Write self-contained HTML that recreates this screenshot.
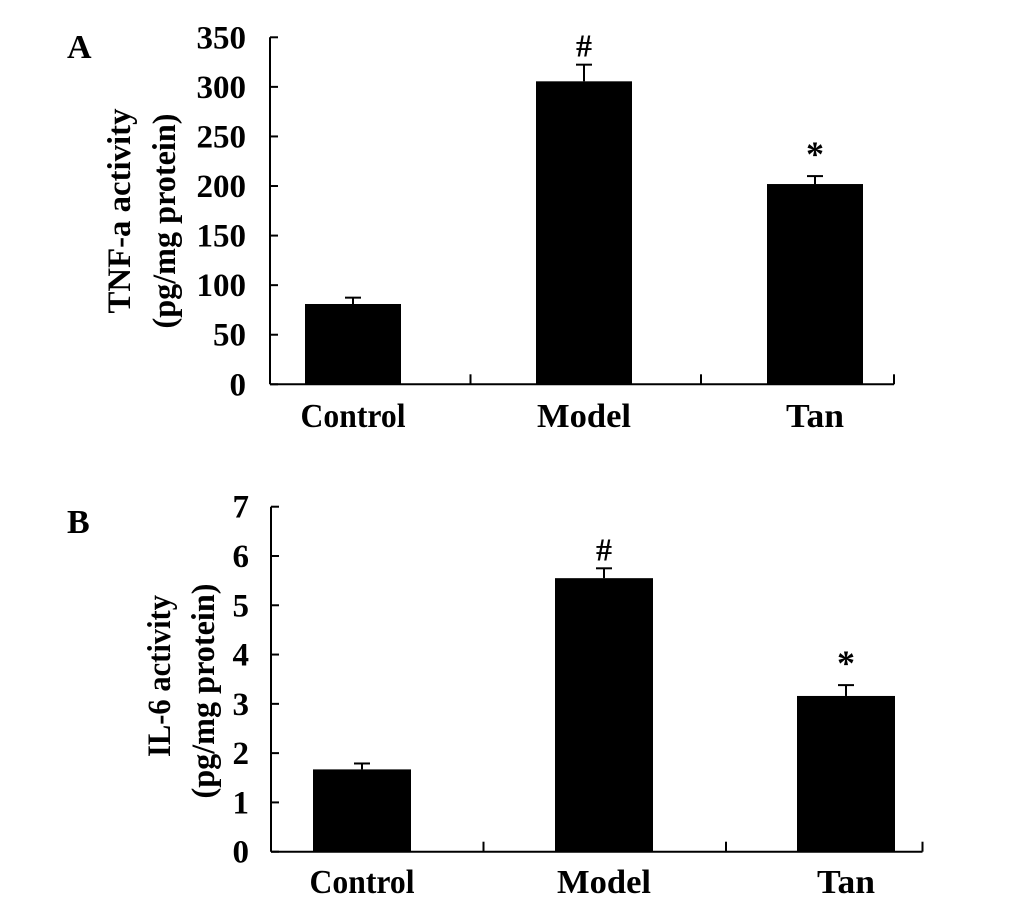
<!DOCTYPE html>
<html><head><meta charset="utf-8"><style>
html,body{margin:0;padding:0;background:#fff;}
svg{display:block;}
text{font-family:"Liberation Serif",serif;font-weight:bold;fill:#000;}
</style></head><body>
<svg id="fig" width="1034" height="898" viewBox="0 0 1034 898">
<text x="67" y="58" font-size="34">A</text>
<text x="67" y="533" font-size="34">B</text>
<text transform="translate(130,211) rotate(-90)" text-anchor="middle" font-size="33" textLength="205" lengthAdjust="spacingAndGlyphs">TNF-a activity</text>
<text transform="translate(175,221) rotate(-90)" text-anchor="middle" font-size="33" textLength="215" lengthAdjust="spacingAndGlyphs">(pg/mg protein)</text>
<text transform="translate(170,676) rotate(-90)" text-anchor="middle" font-size="33" textLength="162" lengthAdjust="spacingAndGlyphs">IL-6 activity</text>
<text transform="translate(214,691) rotate(-90)" text-anchor="middle" font-size="33" textLength="215" lengthAdjust="spacingAndGlyphs">(pg/mg protein)</text>
</svg>
<script>
const categories = ["Control", "Model", "Tan"];
const tnfValues = [81, 305.6, 202];
const tnfErrors = [6.4, 16.8, 8];
const tnfMarks = ["", "#", "*"];
const tnfTicks = [0, 50, 100, 150, 200, 250, 300, 350];
const il6Values = [1.67, 5.55, 3.16];
const il6Errors = [0.12, 0.2, 0.22];
const il6Marks = ["", "#", "*"];
const il6Ticks = [0, 1, 2, 3, 4, 5, 6, 7];

const NS = "http://www.w3.org/2000/svg";
const svg = document.getElementById("fig");
const labelWidths = [105, 94, 58];
function mk(tag, attrs, txt) {
  const e = document.createElementNS(NS, tag);
  for (const k in attrs) e.setAttribute(k, attrs[k]);
  if (txt !== undefined) e.textContent = txt;
  svg.appendChild(e);
  return e;
}
function panel(p, vals, errs, marks, ticks) {
  const max = ticks[ticks.length - 1];
  const y = v => p.y0 - (v / max) * (p.y0 - p.yTop);
  const x = i => p.c0 + i * p.step;
  let e = mk("line", {x1: p.x0, y1: p.yTop, x2: p.x0, y2: p.y0, stroke: "#000", "stroke-width": 2});
  
  
  e = mk("line", {x1: p.x0, y1: p.y0, x2: p.x1, y2: p.y0, stroke: "#000", "stroke-width": 2});
  
  
  ticks.forEach(t => {
    const ty = y(t);
    let l = mk("line", {x1: p.x0, y1: ty, x2: p.x0 + 8, y2: ty, stroke: "#000", "stroke-width": 2});
    
    
    let tx = mk("text", {x: p.labelRight, y: ty + 11, "text-anchor": "end", "font-size": 33}, String(t));
    
    
  });
  for (let i = 1; i <= categories.length; i++) {
    const cx = i < categories.length ? p.tickStart + (i - 1) * p.tickStep : p.x1;
    let l = mk("line", {x1: cx, y1: p.y0, x2: cx, y2: p.y0 - 10, stroke: "#000", "stroke-width": 2});
    
    
  }
  categories.forEach((c, i) => {
    const cx = x(i);
    const top = y(vals[i]), et = y(vals[i] + errs[i]);
    let eb = mk("line", {x1: cx, y1: et, x2: cx, y2: top, stroke: "#000", "stroke-width": 2});
    
    
    let cap = mk("line", {x1: cx - 8, y1: et, x2: cx + 8, y2: et, stroke: "#000", "stroke-width": 2});
    
    
    let r = mk("rect", {x: cx - p.bw / 2, y: top, width: p.bw, height: p.y0 - top, fill: "#000"});
    
    
    let lb = mk("text", {x: cx, y: p.labelY, "text-anchor": "middle", "font-size": 34, textLength: labelWidths[i], lengthAdjust: "spacingAndGlyphs"}, c);
    
    
    if (marks[i]) {
      let m = mk("text", {x: cx, y: et - (marks[i] === "#" ? 8 : 10), "text-anchor": "middle", "font-size": marks[i] === "#" ? 32 : 36, "font-weight": marks[i] === "#" ? "normal" : "bold"}, marks[i]);
      
      
    }
  });
}
panel({id: "panel-a", x0: 270, x1: 894, y0: 384.3, yTop: 37.3, bw: 96, c0: 353, step: 231, tickStart: 470.5, tickStep: 230.5, labelRight: 246, labelY: 427}, tnfValues, tnfErrors, tnfMarks, tnfTicks);
panel({id: "panel-b", x0: 271, x1: 922.5, y0: 851.7, yTop: 506.7, bw: 98, c0: 362, step: 242, tickStart: 483.5, tickStep: 242.5, labelRight: 249, labelY: 893}, il6Values, il6Errors, il6Marks, il6Ticks);
</script>
</body></html>
